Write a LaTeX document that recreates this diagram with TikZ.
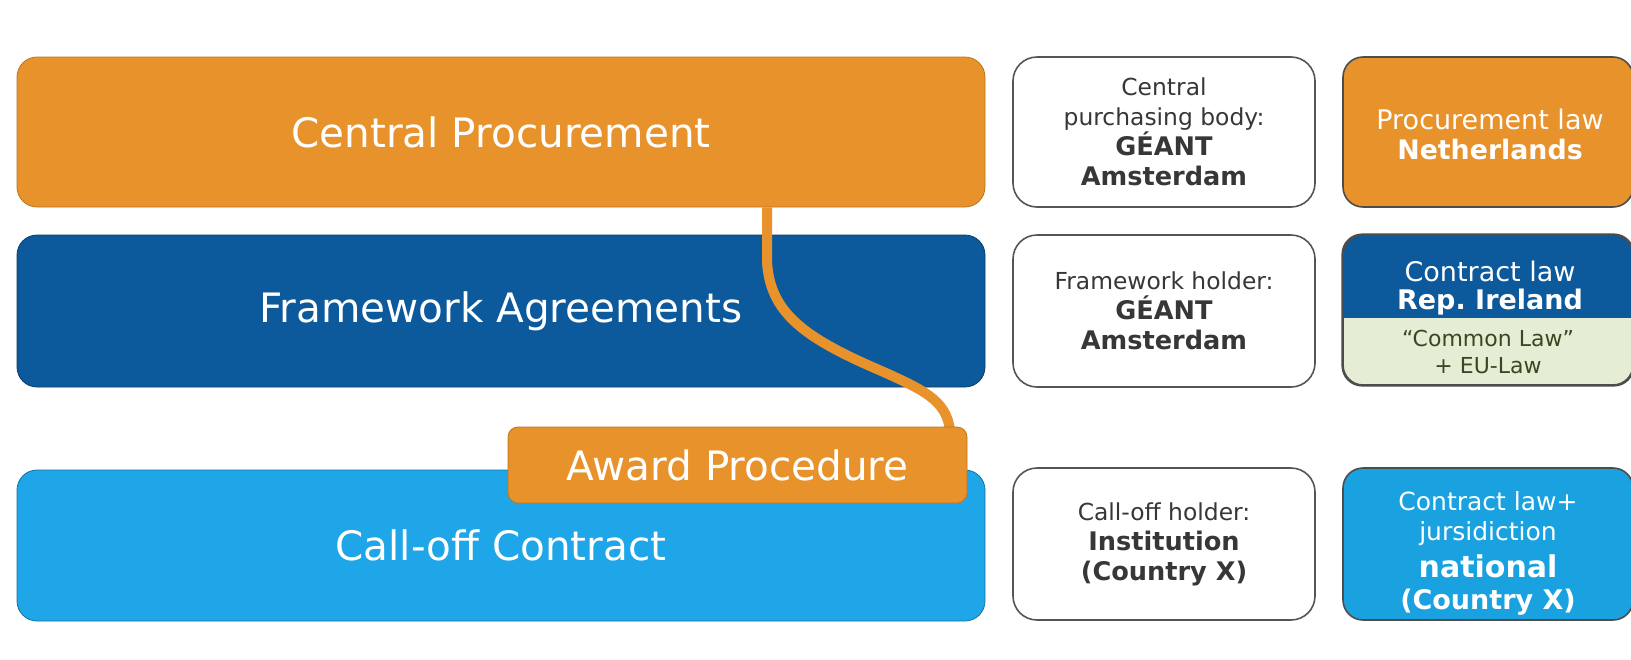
\documentclass[tikz,border=0pt]{standalone}
\usepackage{fontspec}
\setmainfont{DejaVu Sans}
\usepackage{tikz}

\definecolor{procorange}{RGB}{232,146,44}
\definecolor{frameblue}{RGB}{12,89,156}
\definecolor{calloffblue}{RGB}{30,166,232}
\definecolor{natblue}{RGB}{26,162,224}
\definecolor{lawgreen}{RGB}{229,238,212}
\definecolor{lawtext}{RGB}{58,72,34}
\definecolor{boxgray}{RGB}{85,85,85}
\definecolor{textgray}{RGB}{55,55,55}

\newcommand{\holdbf}[1]{{\fontsize{12.8}{15}\selectfont\bfseries #1}}

\begin{document}
\begin{tikzpicture}[x=0.5pt, y=-0.5pt,
		bar/.style={rounded corners=10pt, minimum width=484pt, minimum height=75pt, inner sep=0pt,
			text=white, font=\fontsize{20.25}{24}\selectfont},
		holder/.style={draw=boxgray, line width=0.8pt, fill=white, rounded corners=12pt,
			minimum width=151pt, minimum height=75pt, inner sep=0pt, align=center,
			text=textgray, font=\fontsize{11.7}{15}\selectfont},
		lawbox/.style={draw=black!70, line width=0.8pt, rounded corners=10pt,
			minimum width=145pt, minimum height=75pt, inner sep=0pt},
		lawtxt/.style={align=center, text=white, inner sep=0pt, font=\fontsize{12.5}{15}\selectfont},
		awardline/.style={procorange, line width=5pt}]

			\useasboundingbox (0, 0) rectangle (1631, 659);
			\clip (0, 0) rectangle (1631, 659);

			% left column
			\node[bar, fill=procorange, draw=procorange!80!black] (cp) at (501, 132) {Central Procurement};
			\node[bar, fill=frameblue, draw=frameblue!70!black, minimum height=76pt] (fa) at (501, 311) {Framework Agreements};
			\node[bar, fill=calloffblue, draw=calloffblue!70!black, minimum height=75.5pt] (co) at (501, 545.5) {Call-off Contract};

			\draw[awardline] ([xshift=133pt]cp.south) -- (767, 262)
			.. controls (770, 310) and (800, 335) .. (870, 366)
			.. controls (925, 390) and (946, 400) .. (950, 430);
			\node[bar, fill=procorange, draw=procorange!80!black, rounded corners=5pt,
				minimum width=229.5pt, minimum height=38pt] (award) at (737.5, 465) {Award Procedure};

			% middle column
			\node[holder] (cpb) at (1164, 132) {Central\\purchasing body:\\\holdbf{GÉANT}\\\holdbf{Amsterdam}};
			\node[holder, minimum height=76pt] (fh) at (1164, 311) {Framework holder:\\\holdbf{GÉANT}\\\holdbf{Amsterdam}};
			\node[holder, minimum height=76pt] (ch) at (1164, 544) {Call-off holder:\\\holdbf{Institution}\\\holdbf{(Country X)}};

			% right column
			\node[lawbox, fill=procorange] (nl) at (1488, 132) {};
			\node[lawtxt, font=\fontsize{13.5}{15}\selectfont] (nltxt) at (1490, 134)
			{Procurement law\\{\fontsize{13.4}{15}\selectfont\bfseries Netherlands}};

			\node[lawbox, fill=lawgreen, path picture={
					\fill[frameblue, sharp corners] (path picture bounding box.north west) rectangle
					([yshift=-41.5pt]path picture bounding box.north east);}] (ie) at (1488, 310) {};
			\draw[black!70, line width=0.8pt, rounded corners=10pt] (ie.north west) rectangle (ie.south east);
			\node[lawtxt, font=\fontsize{13.5}{14}\selectfont] (ielaw) at (1490, 288)
			{Contract law\\{\bfseries\fontsize{13.5}{14}\selectfont Rep.\ Ireland}};
			\node[lawtxt, text=lawtext, font=\fontsize{11}{13.5}\selectfont] (iecl) at (1488, 352)
			{“Common Law”\\+ EU-Law};

			\node[lawbox, fill=natblue, minimum height=76pt] (nat) at (1488, 544) {};
			\node[lawtxt] (nattxt) at (1488, 553)
			{Contract law+\\jursidiction\\[3.5pt]{\fontsize{15}{15}\selectfont\bfseries national}\\[1pt]{\fontsize{13.5}{15}\selectfont\bfseries (Country X)}};

		\end{tikzpicture}
\end{document}
